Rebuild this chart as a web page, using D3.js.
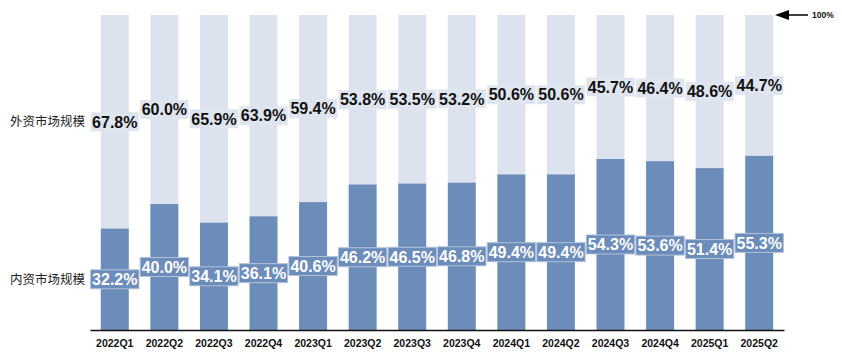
<!DOCTYPE html>
<html>
<head>
<meta charset="utf-8">
<script src="https://cdn.jsdelivr.net/npm/d3@7"></script>
<style>
  body { margin: 0; background: #fff; }
  svg { display: block; }
  .val { font-family: "Liberation Sans", Arial, sans-serif; font-weight: bold; font-size: 16px; }
  .cat { font-family: "Liberation Sans", Arial, sans-serif; font-weight: bold; font-size: 10.5px; fill: #111; }
  .side { font-family: "Noto Sans CJK SC", sans-serif; font-size: 12.5px; fill: #222; }
</style>
</head>
<body>
<script>
var categories = ["2022Q1", "2022Q2", "2022Q3", "2022Q4", "2023Q1", "2023Q2", "2023Q3",
                  "2023Q4", "2024Q1", "2024Q2", "2024Q3", "2024Q4", "2025Q1", "2025Q2"];
var domestic = [32.2, 40.0, 34.1, 36.1, 40.6, 46.2, 46.5, 46.8, 49.4, 49.4, 54.3, 53.6, 51.4, 55.3];
var foreign = [67.8, 60.0, 65.9, 63.9, 59.4, 53.8, 53.5, 53.2, 50.6, 50.6, 45.7, 46.4, 48.6, 44.7];
var seriesNames = ["外资市场规模", "内资市场规模"];

const W = 842, H = 354;
const C_LIGHT = "#dde3ee", C_DARK = "#6c8cba";

var svg = d3.select("body").append("svg").attr("width", W).attr("height", H);

var x = d3.scaleBand().domain(categories).range([90, 784]).paddingInner(0.435).paddingOuter(0.2175);
var y = d3.scaleLinear().domain([0, 100]).range([330, 15]);

var rows = categories.map(function(c, i) {
    return { cat: c, dom: domestic[i], fgn: foreign[i] };
});

// outer (foreign) segment
svg.append("g").selectAll("rect").data(rows).enter().append("rect")
    .attr("x", function(d) { return x(d.cat); })
    .attr("width", x.bandwidth())
    .attr("y", function(d) { return y(d.dom + d.fgn); })
    .attr("height", function(d) { return y(d.dom) - y(d.dom + d.fgn); })
    .attr("fill", C_LIGHT);

// inner (domestic) segment
svg.append("g").selectAll("rect").data(rows).enter().append("rect")
    .attr("x", function(d) { return x(d.cat); })
    .attr("width", x.bandwidth())
    .attr("y", function(d) { return y(d.dom); })
    .attr("height", function(d) { return y(0) - y(d.dom); })
    .attr("fill", C_DARK);

// value labels with boxes
function addLabels(getVal, getMid, boxFill, boxStroke, textFill) {
    var g = svg.append("g");
    rows.forEach(function(d) {
        var cx = x(d.cat) + x.bandwidth() / 2;
        var cy = getMid(d);
        var lg = g.append("g");
        var box = lg.append("rect").attr("fill", boxFill).attr("stroke", boxStroke).attr("stroke-width", 1);
        var t = lg.append("text").attr("class", "val")
            .attr("x", cx).attr("y", cy).attr("dy", "0.36em")
            .attr("text-anchor", "middle").attr("fill", textFill)
            .text(getVal(d).toFixed(1) + "%");
        var bb = t.node().getBBox();
        box.attr("x", cx - bb.width / 2 - 1.5).attr("width", bb.width + 3)
            .attr("y", cy - 9.5).attr("height", 19);
    });
}
addLabels(function(d) { return d.fgn; },
          function(d) { return (y(d.dom + d.fgn) + y(d.dom)) / 2; },
          "#dfe5ef", "none", "#111");
addLabels(function(d) { return d.dom; },
          function(d) { return (y(d.dom) + y(0)) / 2; },
          C_DARK, "#b3c2da", "#fff");

// x axis
var axis = svg.append("g").attr("transform", "translate(0," + y(0) + ")")
    .call(d3.axisBottom(x).tickSize(0).tickPadding(10));
axis.select(".domain").attr("stroke", "#111").attr("stroke-width", 1.5);
axis.selectAll("text").attr("class", "cat").attr("font-family", null).attr("font-size", null).attr("fill", null);

// side series names
var r0 = rows[0];
svg.append("text").attr("class", "side").attr("x", 85).attr("text-anchor", "end")
    .attr("y", (y(r0.dom + r0.fgn) + y(r0.dom)) / 2).attr("dy", "0.35em").text(seriesNames[0]);
svg.append("text").attr("class", "side").attr("x", 85).attr("text-anchor", "end")
    .attr("y", (y(r0.dom) + y(0)) / 2).attr("dy", "0.35em").text(seriesNames[1]);

// 100% arrow
var ay = y(100);
svg.append("path").attr("d", "M775," + ay + "L789," + (ay - 5) + "L789," + (ay + 5) + "Z").attr("fill", "#000");
svg.append("line").attr("x1", 788).attr("x2", 808).attr("y1", ay).attr("y2", ay)
    .attr("stroke", "#000").attr("stroke-width", 1.5);
svg.append("text").attr("x", 812).attr("y", ay).attr("dy", "0.35em")
    .attr("font-family", "Liberation Sans, Arial, sans-serif").attr("font-weight", "bold")
    .attr("font-size", 8.5).attr("fill", "#111").text("100%");
</script>
</body>
</html>
